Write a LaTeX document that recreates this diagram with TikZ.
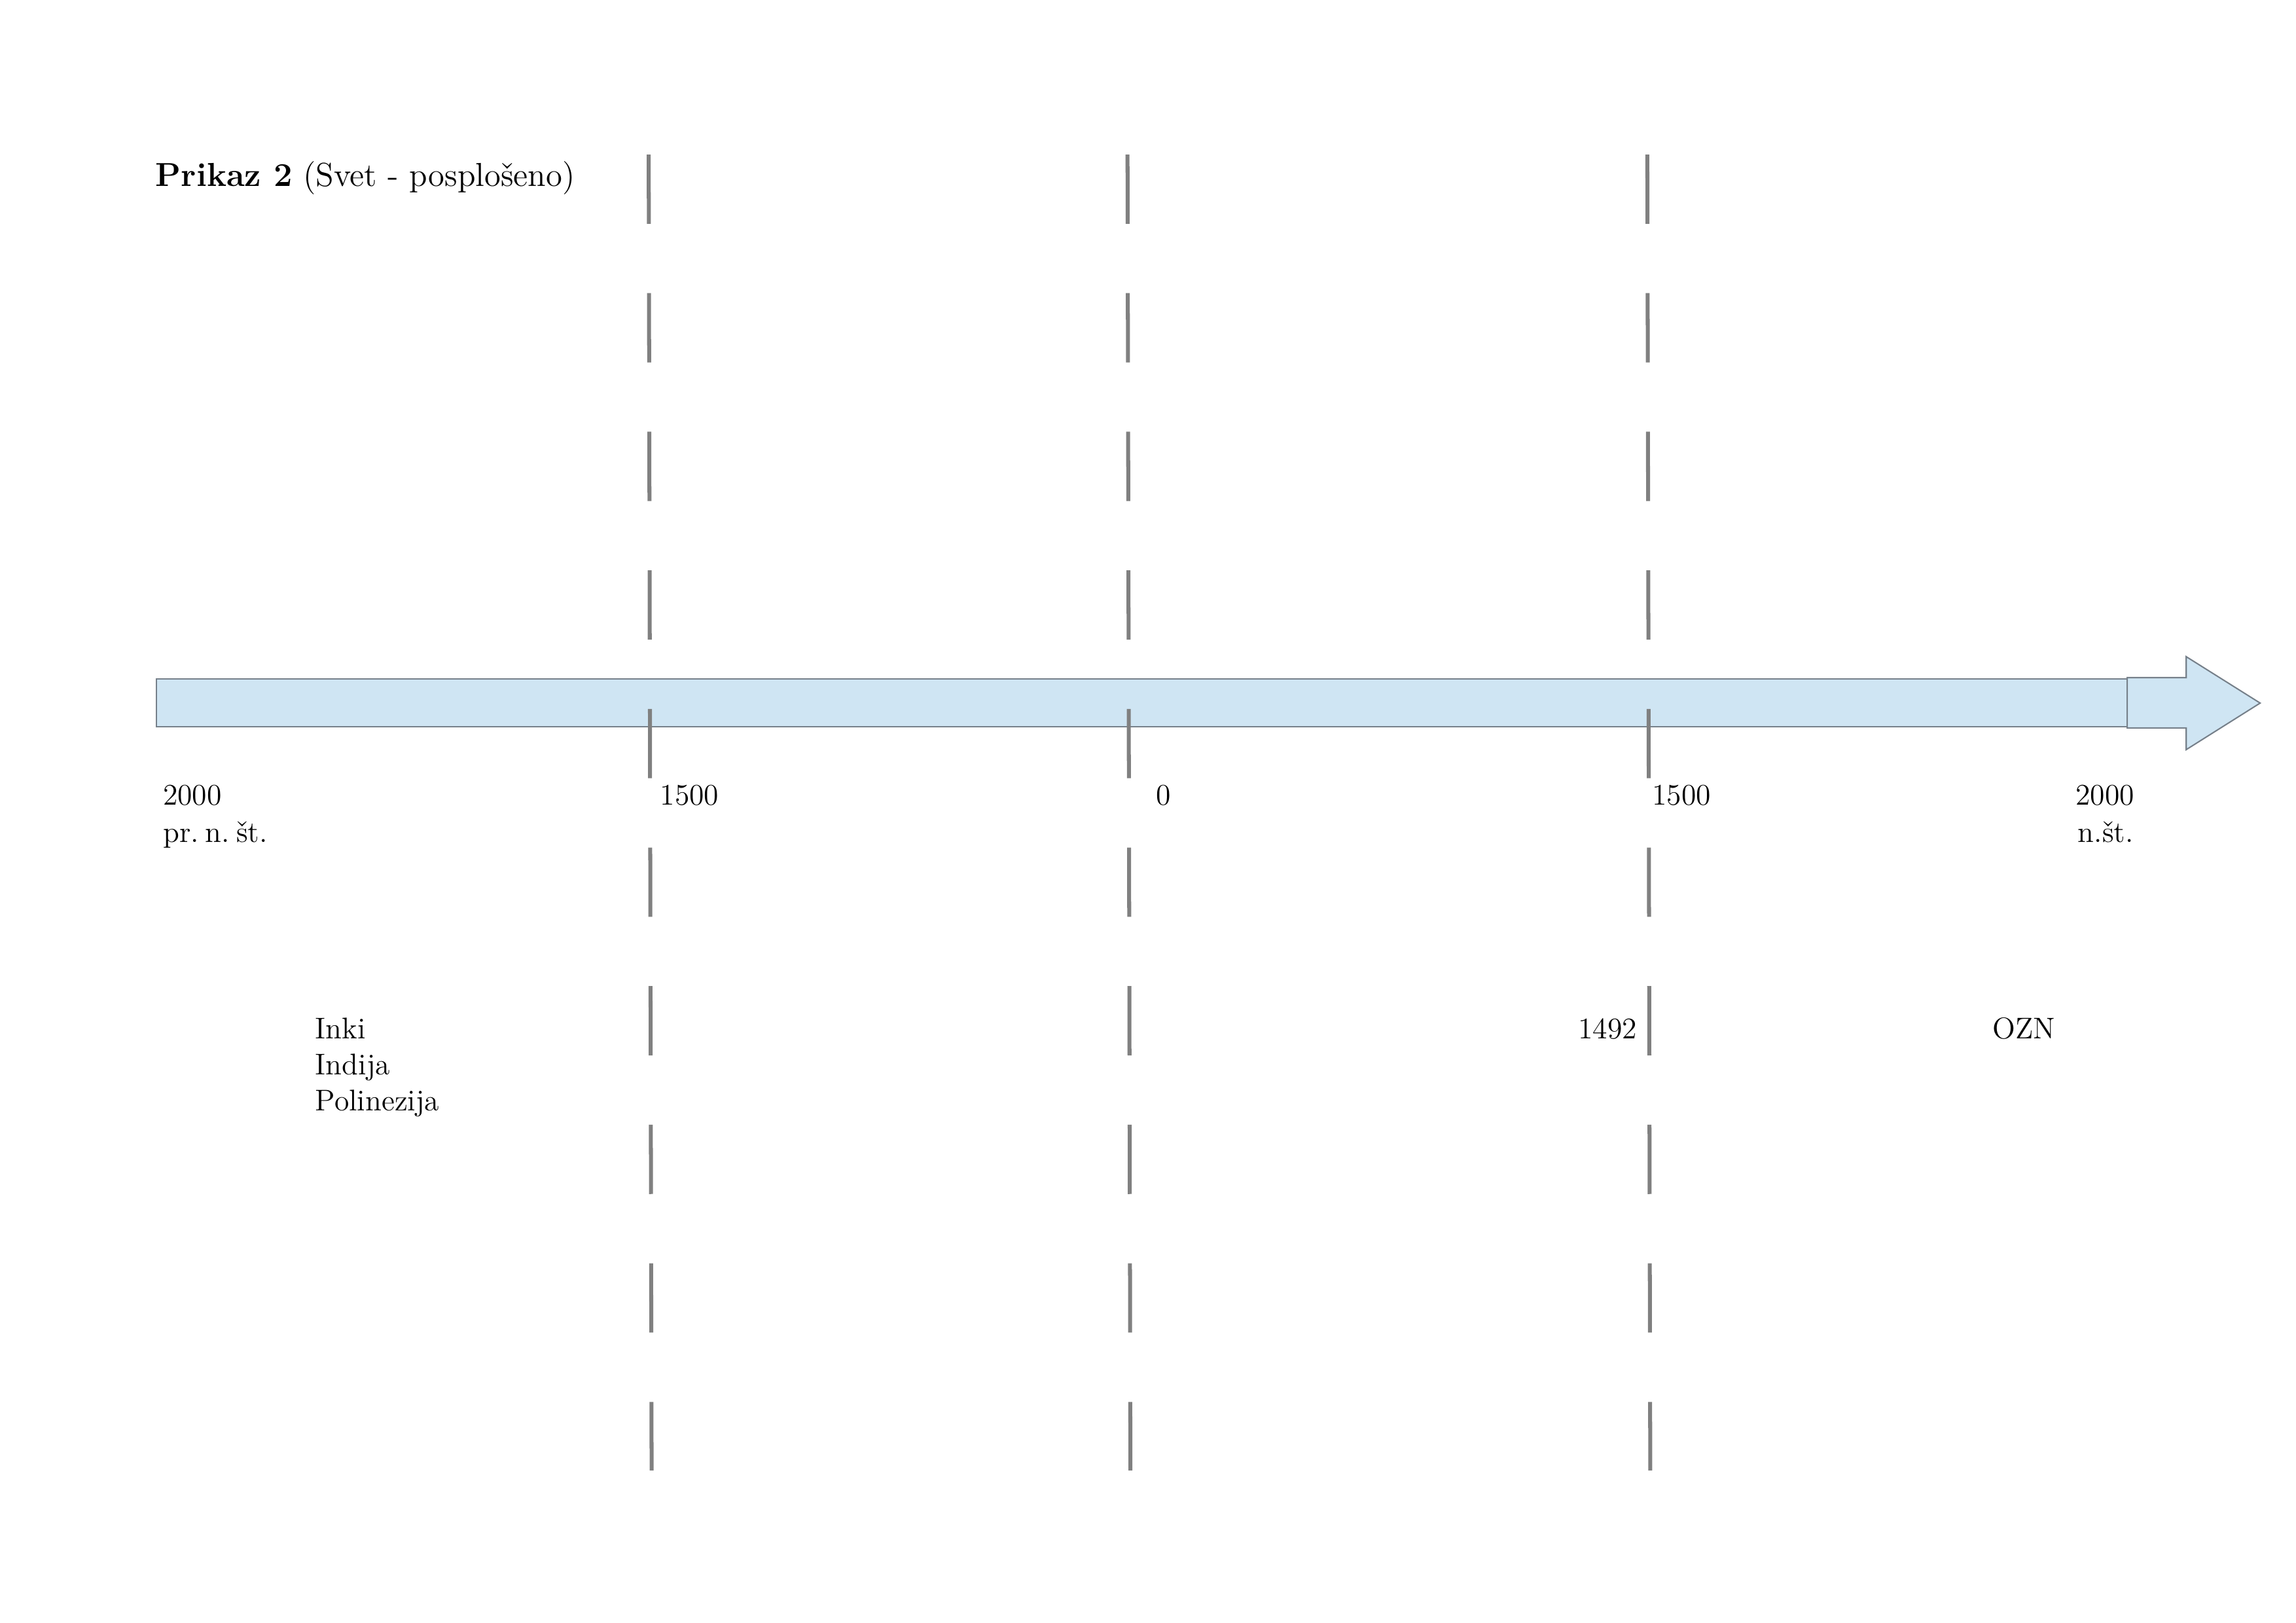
\documentclass[tikz,border=0pt]{standalone}
\usepackage{fontspec}
\definecolor{barfill}{RGB}{207,229,243}
\definecolor{barline}{RGB}{118,128,138}
\definecolor{dashgray}{RGB}{128,128,128}
\begin{document}
\begin{tikzpicture}[x=0.018941cm,y=-0.018941cm,
  lbl/.style={anchor=base west,inner sep=0pt,font=\fontsize{11}{13.2}\selectfont},
  ttl/.style={anchor=base west,inner sep=0pt,font=\fontsize{12.2}{14.6}\selectfont},
  divider/.style={draw=dashgray,line width=1.45pt,dash pattern=on 25.49pt off 25.49pt}]
\useasboundingbox (0,0) rectangle (1568,1108);
% timeline bar
\path[fill=barfill,draw=barline,line width=0.5pt] (107,463.5) rectangle (1452.7,496);
\path[fill=barfill,draw=barline,line width=0.5pt]
  (1452.7,462.6) -- (1493,462.6) -- (1493,448.3) -- (1543.5,480) -- (1493,511.8)
  -- (1493,497) -- (1452.7,497) -- cycle;
% dashed dividers
\coordinate (d1t) at (443,105.5); \coordinate (d1b) at (445,1004);
\coordinate (d2t) at (770,105.5); \coordinate (d2b) at (772,1004);
\coordinate (d3t) at (1125,105.5); \coordinate (d3b) at (1127,1004);
\draw[divider] (d1t) -- (d1b);
\draw[divider] (d2t) -- (d2b);
\draw[divider] (d3t) -- (d3b);
% title
\node[ttl] (title) at (106,127) {\textbf{Prikaz 2} (Svet - posplošeno)};
% axis labels
\node[lbl] (y2000a) at (111,549.5) {2000};
\node[lbl] (y2000b) at (111,575) {pr.\hspace{0.22em}n.\hspace{0.22em}št.};
\node[lbl] (y1500a) at (450.5,549.5) {1500};
\node[lbl] (y0) at (789,549.5) {0};
\node[lbl] (y1500b) at (1128,549.5) {1500};
\node[lbl,anchor=base] (y2000c) at (1437.5,549.5) {2000};
\node[lbl,anchor=base] (y2000d) at (1438,575) {n.št.};
% events
\node[lbl] (inki) at (215,709) {Inki};
\node[lbl] (indija) at (215,733.5) {Indija};
\node[lbl] (poli) at (215,758.3) {Polinezija};
\node[lbl] (y1492) at (1077.5,709) {1492};
\node[lbl] (ozn) at (1360.5,709) {OZN};
\end{tikzpicture}
\end{document}
